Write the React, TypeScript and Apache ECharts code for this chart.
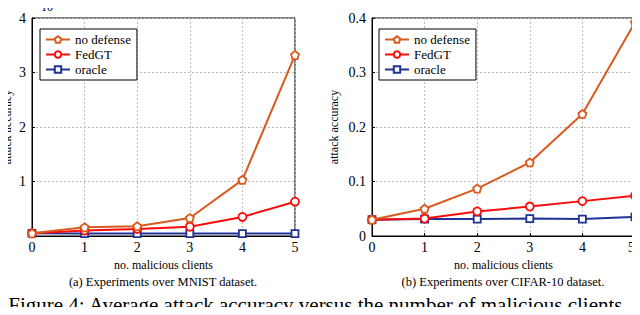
import React, { useEffect, useRef } from "react";
import * as echarts from "echarts";

const clients = ["0", "1", "2", "3", "4", "5"];
// MNIST values in units of 1e-2
const mnistNoDefense = [0.05, 0.16, 0.18, 0.33, 1.03, 3.32];
const mnistFedGT = [0.05, 0.1, 0.13, 0.17, 0.35, 0.63];
const mnistOracle = [0.05, 0.045, 0.045, 0.045, 0.045, 0.045];
// CIFAR-10 values
const cifarNoDefense = [0.03, 0.05, 0.087, 0.135, 0.224, 0.392];
const cifarFedGT = [0.03, 0.032, 0.045, 0.054, 0.064, 0.074];
const cifarOracle = [0.03, 0.031, 0.031, 0.032, 0.031, 0.035];

const seriesNames = ["no defense", "FedGT", "oracle"];
const colors = ["#D95A1E", "#FF0A0A", "#1F3494"];
const pentagon =
  "path://M0,-1 L0.951,-0.309 L0.588,0.809 L-0.588,0.809 L-0.951,-0.309 Z";
const symbols = [pentagon, "circle", "rect"];

const FONT = "'Liberation Serif', 'Times New Roman', serif";

export default function App() {
  const ref = useRef<HTMLDivElement>(null);
  useEffect(() => {
    if (!ref.current) return;
    const chart = echarts.init(ref.current, null, { renderer: "svg" });

    const mkSeries = (data: number[], idx: number, axis: number) => ({
      type: "line",
      name: seriesNames[idx],
      xAxisIndex: axis,
      yAxisIndex: axis,
      data: data.map((v, i) => [i, v]),
      symbol: symbols[idx],
      symbolSize: idx === 2 ? 7 : 8,
      showSymbol: true,
      z: 10 - idx,
      lineStyle: { color: colors[idx], width: 2 },
      itemStyle: { color: "#fff", borderColor: colors[idx], borderWidth: 1.8 },
    });

    const xAxisBase = (gridIndex: number) => ({
      type: "value",
      gridIndex,
      min: 0,
      max: 5,
      interval: 1,
      name: "no. malicious clients",
      nameLocation: "middle",
      nameGap: 22,
      nameTextStyle: { fontFamily: FONT, fontSize: 12, color: "#000" },
      axisLine: { show: true, lineStyle: { color: "#000", width: 1 } },
      axisTick: { show: true, inside: true, length: 3, lineStyle: { color: "#000" } },
      axisLabel: {
        fontFamily: FONT,
        fontSize: 14,
        color: "#000",
        margin: 4,
        showMinLabel: true,
        showMaxLabel: true,
        hideOverlap: false,
        alignMaxLabel: gridIndex === 1 ? "right" : "center",
        formatter: (v: number) => clients[v] ?? String(v),
      },
      splitLine: { show: true, lineStyle: { color: "#bbb", type: [2, 2], width: 1 } },
    });

    const yAxisBase = (gridIndex: number, max: number, interval: number, hideZero: boolean) => ({
      type: "value",
      gridIndex,
      min: 0,
      max,
      interval,
      axisLine: { show: true, lineStyle: { color: "#000", width: 1 } },
      axisTick: { show: true, inside: true, length: 3, lineStyle: { color: "#000" } },
      axisLabel: {
        fontFamily: FONT,
        fontSize: 14,
        color: "#000",
        margin: 6,
        showMinLabel: true,
        showMaxLabel: true,
        formatter: (v: number) => {
          if (hideZero && v === 0) return "";
          return String(Math.round(v * 10) / 10);
        },
      },
      splitLine: { show: true, lineStyle: { color: "#bbb", type: [2, 2], width: 1 } },
    });

    const legendBase = (left: number) => ({
      left,
      top: 29,
      orient: "vertical",
      data: seriesNames,
      backgroundColor: "#fff",
      borderColor: "#000",
      borderWidth: 1,
      borderRadius: 0,
      padding: [4, 6, 4, 5],
      itemGap: 2,
      itemWidth: 24,
      itemHeight: 8,
      selectedMode: false,
      textStyle: { fontFamily: FONT, fontSize: 13, color: "#000" },
    });

    const gridBase = (left: number) => ({
      left,
      top: 18,
      width: 263,
      height: 218,
      show: true,
      borderColor: "#000",
      borderWidth: 1,
      backgroundColor: "transparent",
      containLabel: false,
      outerBoundsMode: "none",
    });

    const yTitle = (x: number) => ({
      type: "text",
      x,
      y: 127,
      rotation: Math.PI / 2,
      z: 100,
      style: {
        text: "attack accuracy",
        fontFamily: FONT,
        fontSize: 12,
        fill: "#000",
        align: "center",
        verticalAlign: "middle",
      },
    });

    chart.setOption({
      animation: false,
      backgroundColor: "#fff",
      textStyle: { fontFamily: FONT },
      grid: [gridBase(32), gridBase(372)],
      xAxis: [xAxisBase(0), xAxisBase(1)],
      yAxis: [yAxisBase(0, 4, 1, true), yAxisBase(1, 0.4, 0.1, false)],
      legend: [legendBase(40), legendBase(379)],
      series: [
        mkSeries(mnistNoDefense, 0, 0),
        mkSeries(mnistFedGT, 1, 0),
        mkSeries(mnistOracle, 2, 0),
        mkSeries(cifarNoDefense, 0, 1),
        mkSeries(cifarFedGT, 1, 1),
        mkSeries(cifarOracle, 2, 1),
      ],
      graphic: [
        yTitle(7),
        yTitle(334),
        {
          type: "text",
          x: 37,
          y: 7,
          z: 100,
          style: { text: "·10", fontFamily: FONT, fontSize: 12, fill: "#000", align: "left", verticalAlign: "middle" },
        },
        {
          type: "text",
          x: 52,
          y: 3.5,
          z: 100,
          style: { text: "−2", fontFamily: FONT, fontSize: 9, fill: "#000", align: "left", verticalAlign: "middle" },
        },
        {
          type: "text",
          x: 163,
          y: 282,
          style: {
            text: "(a) Experiments over MNIST dataset.",
            fontFamily: FONT,
            fontSize: 12.5,
            fill: "#000",
            align: "center",
            verticalAlign: "middle",
          },
        },
        {
          type: "text",
          x: 503,
          y: 282,
          style: {
            text: "(b) Experiments over CIFAR-10 dataset.",
            fontFamily: FONT,
            fontSize: 12.5,
            fill: "#000",
            align: "center",
            verticalAlign: "middle",
          },
        },
        {
          type: "text",
          x: 318,
          y: 305,
          style: {
            text: "Figure 4: Average attack accuracy versus the number of malicious clients.",
            fontFamily: FONT,
            fontSize: 21,
            fill: "#000",
            align: "center",
            verticalAlign: "middle",
          },
        },
      ],
    });
    return () => chart.dispose();
  }, []);
  return <div ref={ref} style={{ width: 640, height: 315, margin: -8 }} />;
}
